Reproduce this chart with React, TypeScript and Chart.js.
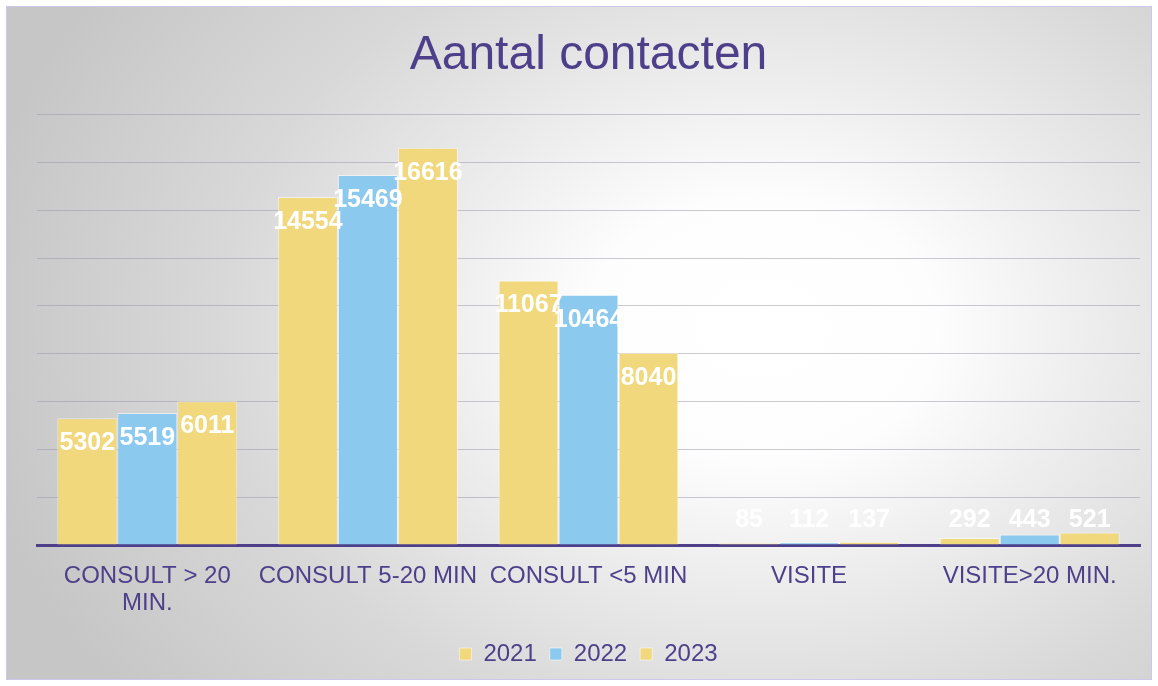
import React, { useEffect, useRef } from "react";
import { Chart, registerables } from "chart.js";

Chart.register(...registerables);

const categories: (string | string[])[] = [
  ["CONSULT > 20", "MIN."],
  "CONSULT 5-20 MIN",
  "CONSULT <5 MIN",
  "VISITE",
  "VISITE>20 MIN.",
];
const seriesNames = ["2021", "2022", "2023"];
const values2021 = [5302, 14554, 11067, 85, 292];
const values2022 = [5519, 15469, 10464, 112, 443];
const values2023 = [6011, 16616, 8040, 137, 521];
const yMax = 18000;
const yStep = 2000;

const YELLOW = "#F1D87C";
const BLUE = "#8CC9EE";
const PURPLE = "#4E3F8B";
const FONT = '"Liberation Sans", Arial, sans-serif';

const valueLabels = {
  id: "valueLabels",
  afterDatasetsDraw(chart: any) {
    const { ctx } = chart;
    const base = chart.scales.y.getPixelForValue(0);
    ctx.save();
    ctx.font = `bold 25px ${FONT}`;
    ctx.fillStyle = "#ffffff";
    ctx.textAlign = "center";
    ctx.textBaseline = "middle";
    chart.data.datasets.forEach((ds: any, i: number) => {
      const meta = chart.getDatasetMeta(i);
      meta.data.forEach((bar: any, j: number) => {
        const v = ds.data[j];
        const h = base - bar.y;
        const y = h > 50 ? bar.y + 25 : base - 25;
        ctx.fillText(String(v), bar.x, y);
      });
    });
    ctx.restore();
  },
};

export default function App() {
  const ref = useRef<HTMLCanvasElement>(null);

  useEffect(() => {
    if (!ref.current) return;
    const mk = (label: string, data: number[], color: string) => ({
      label,
      data,
      backgroundColor: color,
      borderColor: "rgba(255,255,255,0.55)",
      borderWidth: 1,
      categoryPercentage: 0.816,
      barPercentage: 1.0,
    });
    const chart = new Chart(ref.current, {
      type: "bar",
      data: {
        labels: categories,
        datasets: [
          mk(seriesNames[0], values2021, YELLOW),
          mk(seriesNames[1], values2022, BLUE),
          mk(seriesNames[2], values2023, YELLOW),
        ],
      },
      options: {
        responsive: false,
        animation: false,
        layout: { padding: { left: 31, right: 12, top: 0, bottom: 4 } },
        plugins: {
          title: {
            display: true,
            text: "Aantal contacten",
            color: PURPLE,
            font: { family: FONT, size: 48, weight: "normal" },
            padding: { top: 21, bottom: 30 },
          },
          legend: {
            display: true,
            position: "bottom",
            labels: {
              color: PURPLE,
              font: { family: FONT, size: 24 },
              boxWidth: 12,
              boxHeight: 12,
              padding: 13,
            },
          },
          tooltip: { enabled: false },
        },
        scales: {
          x: {
            z: 1,
            grid: { display: false, drawTicks: false },
            border: { display: true, color: PURPLE, width: 3 },
            ticks: {
              color: PURPLE,
              font: { family: FONT, size: 24, lineHeight: 1.12 },
              padding: 18,
              maxRotation: 0,
              minRotation: 0,
              autoSkip: false,
            },
            afterFit: (s: any) => {
              s.height = 84;
            },
          },
          y: {
            min: 0,
            max: yMax,
            ticks: { display: false, stepSize: yStep },
            grid: { color: "rgba(150,150,165,0.5)", lineWidth: 1, drawTicks: false },
            border: { display: false },
          },
        },
      },
      plugins: [valueLabels],
    });
    return () => chart.destroy();
  }, []);

  return (
    <div style={{ position: "fixed", left: 0, top: 0, width: 1158, height: 686, background: "#ffffff" }}>
      <div
        style={{
          position: "absolute",
          left: 6,
          top: 6,
          width: 1146,
          height: 674,
          boxSizing: "border-box",
          border: "1px solid #CEC7EC",
          background:
            "radial-gradient(ellipse 70% 90% at 66% 48%, #ffffff 0%, #fdfdfd 22%, #eeeeee 40%, #d8d8d8 68%, #c6c6c6 100%)",
        }}
      />
      <canvas ref={ref} width={1146} height={674} style={{ position: "absolute", left: 6, top: 6 }} />
    </div>
  );
}
